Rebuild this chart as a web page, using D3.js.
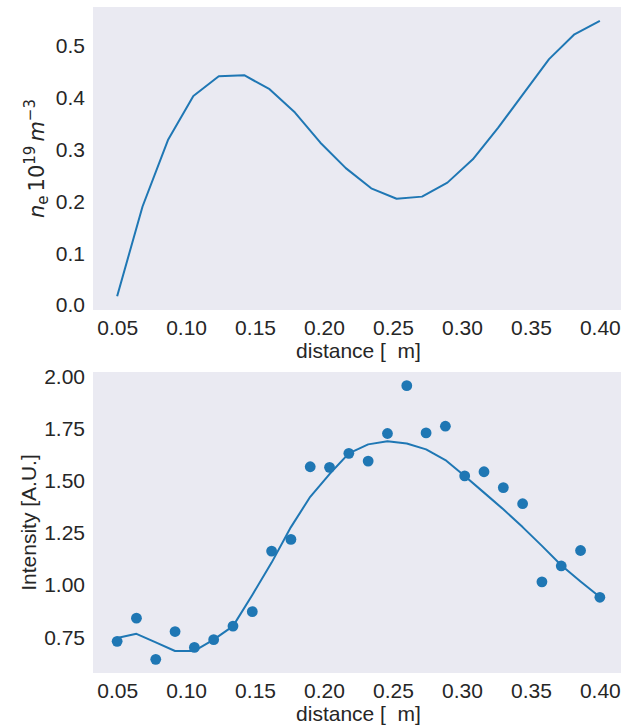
<!DOCTYPE html>
<html>
<head>
<meta charset="utf-8">
<script src="https://cdn.jsdelivr.net/npm/d3@7.9.0/dist/d3.min.js"></script>
<style>
  body { margin: 0; background: #fff; }
  svg { display: block; }
</style>
</head>
<body>
<svg id="chart" width="621" height="726"></svg>
<script>
// top panel: density profile (20 points, 0.05 .. 0.40)
const densityValues = [0.016, 0.189, 0.317, 0.402, 0.440, 0.442, 0.415, 0.370, 0.312, 0.263,
  0.224, 0.204, 0.208, 0.235, 0.280, 0.341, 0.407, 0.473, 0.521, 0.547];

// bottom panel: measured intensity (26 points, 0.05 .. 0.40)
const intensityDots = [0.728, 0.839, 0.642, 0.775, 0.699, 0.736, 0.801, 0.870, 1.160, 1.216,
  1.564, 1.561, 1.628, 1.591, 1.723, 1.952, 1.726, 1.758, 1.520, 1.540,
  1.464, 1.387, 1.013, 1.089, 1.163, 0.939];

// bottom panel: smoothed intensity
const intensityFit = [0.744, 0.764, 0.723, 0.682, 0.682, 0.736, 0.801, 0.950, 1.105, 1.275,
  1.420, 1.529, 1.628, 1.671, 1.686, 1.675, 1.647, 1.596, 1.520, 1.440,
  1.360, 1.275, 1.185, 1.092, 1.015, 0.940];

const xStart = 0.05, xEnd = 0.40;
const topTicks = [0.0, 0.1, 0.2, 0.3, 0.4, 0.5];
const bottomTicks = [0.75, 1.00, 1.25, 1.50, 1.75, 2.00];
const xTicks = [0.05, 0.10, 0.15, 0.20, 0.25, 0.30, 0.35, 0.40];

const xsFor = n => d3.range(n).map(i => xStart + i * (xEnd - xStart) / (n - 1));
const densityX = xsFor(densityValues.length);
const intensityX = xsFor(intensityDots.length);

const blue = '#1f77b4';
const textColor = '#262626';
const font = '"Liberation Sans", Arial, sans-serif';
const mathFont = '"DejaVu Sans", sans-serif';

const svg = d3.select('#chart');

// matplotlib-like 5% padding
function padded(ext) {
  const p = (ext[1] - ext[0]) * 0.05;
  return [ext[0] - p, ext[1] + p];
}

const left = 93, right = 624;
const xScale = d3.scaleLinear().domain(padded([xStart, xEnd])).range([left, right]);

function drawPanel(top, bottom, yDomain, ticks, fmt) {
  const y = d3.scaleLinear().domain(yDomain).range([bottom, top]);

  svg.append('rect')
    .attr('x', left).attr('y', top)
    .attr('width', right - left).attr('height', bottom - top)
    .attr('fill', '#eaeaf2');

  const xAxis = svg.append('g')
    .attr('transform', `translate(0,${bottom})`)
    .call(d3.axisBottom(xScale).tickValues(xTicks).tickFormat(d3.format('.2f')).tickSize(0).tickPadding(10));
  const yAxis = svg.append('g')
    .attr('transform', `translate(${left},0)`)
    .call(d3.axisLeft(y).tickValues(ticks).tickFormat(d3.format(fmt)).tickSize(0).tickPadding(8));

  for (const g of [xAxis, yAxis]) {
    g.select('.domain').remove();
    g.attr('font-family', font).attr('font-size', 21);
    g.selectAll('text').attr('fill', textColor);
  }
  yAxis.selectAll('text').attr('dy', '0.35em');

  svg.append('text')
    .attr('x', (left + right) / 2)
    .attr('y', bottom + 48)
    .attr('text-anchor', 'middle')
    .attr('font-family', font).attr('font-size', 21)
    .attr('fill', textColor)
    .style('white-space', 'pre')
    .text('distance [  m]');

  return y;
}

// ---- top panel ----
const yTop = drawPanel(7, 310, padded(d3.extent(densityValues)), topTicks, '.1f');

svg.append('path')
  .datum(densityValues)
  .attr('fill', 'none')
  .attr('stroke', blue)
  .attr('stroke-width', 2)
  .attr('stroke-linejoin', 'round')
  .attr('d', d3.line().x((d, i) => xScale(densityX[i])).y(d => yTop(d)));

const lab = svg.append('text')
  .attr('transform', `translate(44,${(7 + 310) / 2}) rotate(-90)`)
  .attr('text-anchor', 'middle')
  .attr('font-family', mathFont).attr('font-size', 21)
  .attr('fill', textColor);
lab.append('tspan').attr('font-style', 'italic').text('n');
lab.append('tspan').attr('font-size', 15).attr('dy', 4).text('e');
lab.append('tspan').attr('dy', -4).attr('dx', 4).text('10');
lab.append('tspan').attr('font-size', 15).attr('dy', -9).text('19');
lab.append('tspan').attr('font-style', 'italic').attr('dy', 9).attr('dx', 4).text('m');
lab.append('tspan').attr('font-size', 15).attr('dy', -9).text('\u22123');

// ---- bottom panel ----
const yBot = drawPanel(372, 673, padded(d3.extent(intensityDots.concat(intensityFit))), bottomTicks, '.2f');

svg.append('path')
  .datum(intensityFit)
  .attr('fill', 'none')
  .attr('stroke', blue)
  .attr('stroke-width', 2)
  .attr('stroke-linejoin', 'round')
  .attr('d', d3.line().x((d, i) => xScale(intensityX[i])).y(d => yBot(d)));

svg.append('g')
  .selectAll('circle')
  .data(intensityDots)
  .join('circle')
  .attr('cx', (d, i) => xScale(intensityX[i]))
  .attr('cy', d => yBot(d))
  .attr('r', 5.4)
  .attr('fill', blue);

svg.append('text')
  .attr('transform', `translate(36,${(372 + 673) / 2}) rotate(-90)`)
  .attr('text-anchor', 'middle')
  .attr('font-family', font).attr('font-size', 21)
  .attr('fill', textColor)
  .text('Intensity [A.U.]');
</script>
</body>
</html>
